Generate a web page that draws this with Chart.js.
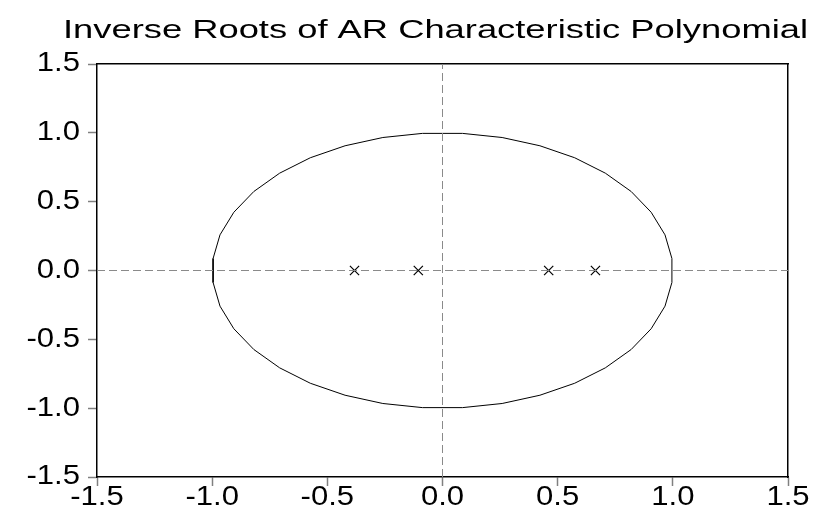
<!DOCTYPE html>
<html>
<head>
<meta charset="utf-8">
<script src="https://cdn.jsdelivr.net/npm/chart.js@4.4.1/dist/chart.umd.min.js"></script>
<style>
html,body{margin:0;padding:0;background:#fff;}
#wrap{width:826px;height:516px;}
</style>
</head>
<body>
<div id="wrap"><canvas id="c" width="826" height="516"></canvas></div>
<script>
const titleText = "Inverse Roots of AR Characteristic Polynomial";
const tickValues = [-1.5, -1.0, -0.5, 0.0, 0.5, 1.0, 1.5];
const tickLabels = ["-1.5", "-1.0", "-0.5", "0.0", "0.5", "1.0", "1.5"];
const rootsRe = [-0.382, -0.105, 0.461, 0.664];
const rootsIm = [0, 0, 0, 0];
const circleX = [0.996,0.966,0.906,0.819,0.707,0.574,0.423,0.259,0.087,-0.087,-0.259,-0.423,-0.574,-0.707,-0.819,-0.906,-0.966,-0.996,-0.996,-0.966,-0.906,-0.819,-0.707,-0.574,-0.423,-0.259,-0.087,0.087,0.259,0.423,0.574,0.707,0.819,0.906,0.966,0.996,0.996];
const circleY = [0.087,0.259,0.423,0.574,0.707,0.819,0.906,0.966,0.996,0.996,0.966,0.906,0.819,0.707,0.574,0.423,0.259,0.087,-0.087,-0.259,-0.423,-0.574,-0.707,-0.819,-0.906,-0.966,-0.996,-0.996,-0.966,-0.906,-0.819,-0.707,-0.574,-0.423,-0.259,-0.087,0.087];
const axisMin = -1.5, axisMax = 1.5;

const circleData = circleX.map((x, i) => ({x: x, y: circleY[i]}));
const rootData = rootsRe.map((x, i) => ({x: x, y: rootsIm[i]}));

const FONT = "Liberation Sans, Arial, sans-serif";
const TICK_SIZE = 27, TICK_SX = 1.15;
const TITLE_SIZE = 26, TITLE_WIDTH = 745;

function stretchedText(ctx, text, x, y, size, sx, align) {
  ctx.save();
  ctx.font = size + "px " + FONT;
  ctx.textBaseline = "middle";
  ctx.textAlign = "left";
  const w = ctx.measureText(text).width * sx;
  let left = x;
  if (align === "center") left = x - w / 2;
  else if (align === "right") left = x - w;
  ctx.translate(left, y);
  ctx.scale(sx, 1);
  ctx.fillStyle = "#000";
  ctx.fillText(text, 0, 0);
  ctx.restore();
}

const textPlugin = {
  id: "stretchText",
  afterDraw(chart) {
    const ctx = chart.ctx;
    const xs = chart.scales.x, ys = chart.scales.y;
    xs.ticks.forEach((t) => {
      const idx = tickValues.indexOf(+t.value.toFixed(1));
      if (idx < 0) return;
      stretchedText(ctx, tickLabels[idx], xs.getPixelForValue(t.value), ys.bottom + 21, TICK_SIZE, TICK_SX, "center");
    });
    ys.ticks.forEach((t) => {
      const idx = tickValues.indexOf(+t.value.toFixed(1));
      if (idx < 0) return;
      stretchedText(ctx, tickLabels[idx], xs.left - 17, ys.getPixelForValue(t.value), TICK_SIZE, TICK_SX, "right");
    });
    ctx.save();
    ctx.font = TITLE_SIZE + "px " + FONT;
    const tw = ctx.measureText(titleText).width;
    ctx.restore();
    stretchedText(ctx, titleText, 63 + TITLE_WIDTH / 2, 31, TITLE_SIZE, TITLE_WIDTH / tw, "center");
  }
};

const tickGrid = {drawOnChartArea: false, drawTicks: true, tickLength: 9, tickColor: "#808080", tickWidth: 1.5, color: "#808080"};

new Chart(document.getElementById("c"), {
  type: "scatter",
  data: {
    datasets: [
      {data: [{x: axisMin, y: 0}, {x: axisMax, y: 0}], showLine: true, pointRadius: 0, borderColor: "#8a8a8a", borderWidth: 1, borderDash: [8, 4]},
      {data: [{x: 0, y: axisMin}, {x: 0, y: axisMax}], showLine: true, pointRadius: 0, borderColor: "#8a8a8a", borderWidth: 1, borderDash: [8, 4]},
      {data: circleData, showLine: true, pointRadius: 0, borderColor: "#000", borderWidth: 1, tension: 0},
      {data: rootData, showLine: false, pointStyle: "crossRot", pointRadius: 6.5, borderColor: "#000", borderWidth: 1.2}
    ]
  },
  options: {
    responsive: false,
    animation: false,
    devicePixelRatio: 1,
    layout: {padding: {left: 0, right: 38, top: 64, bottom: 0}},
    plugins: {legend: {display: false}, tooltip: {enabled: false}, title: {display: false}},
    scales: {
      x: {
        type: "linear", position: "bottom", min: axisMin, max: axisMax,
        ticks: {display: false, stepSize: 0.5},
        grid: tickGrid,
        border: {display: true, color: "#000", width: 1.5},
        afterFit(s) { s.height = 39; }
      },
      y: {
        type: "linear", position: "left", min: axisMin, max: axisMax,
        ticks: {display: false, stepSize: 0.5},
        grid: tickGrid,
        border: {display: true, color: "#000", width: 1.5},
        afterFit(s) { s.width = 97; }
      },
      x2: {
        type: "linear", position: "top", min: axisMin, max: axisMax,
        ticks: {display: false}, grid: {display: false, drawTicks: false},
        border: {display: true, color: "#000", width: 1.5},
        afterFit(s) { s.height = 0; }
      },
      y2: {
        type: "linear", position: "right", min: axisMin, max: axisMax,
        ticks: {display: false}, grid: {display: false, drawTicks: false},
        border: {display: true, color: "#000", width: 1.5},
        afterFit(s) { s.width = 0; }
      }
    }
  },
  plugins: [textPlugin]
});
</script>
</body>
</html>
